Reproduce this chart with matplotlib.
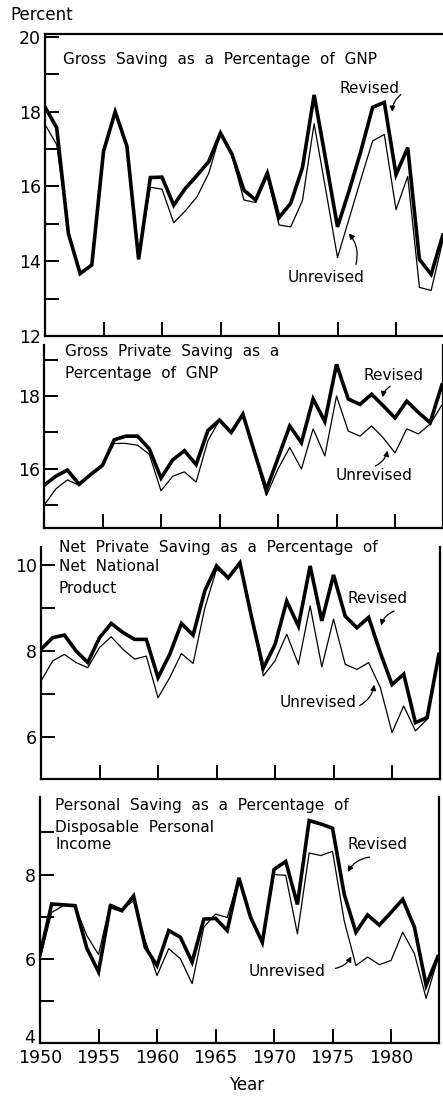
import matplotlib
matplotlib.use("Agg")
import matplotlib.pyplot as plt

# years shared by all four panels
years = list(range(1950, 1985))

# gross saving as a percentage of GNP
gross_rev = [18.13, 17.57, 14.74, 13.67, 13.9, 16.94, 18.0, 17.08, 14.05, 16.24,
             16.25, 15.5, 15.95, 16.3, 16.67, 17.43, 16.85, 15.9, 15.64, 16.36,
             15.17, 15.55, 16.5, 18.45, 16.7, 14.92, 15.9, 16.95, 18.12, 18.25,
             16.32, 17.04, 14.05, 13.65, 14.7]
gross_unrev = [17.66, 17.12, 14.8, 13.7, 13.9, 16.9, 18.0, 17.05, 14.07, 15.98,
               15.93, 15.03, 15.35, 15.73, 16.36, 17.43, 16.8, 15.64, 15.57, 16.27,
               14.97, 14.92, 15.62, 17.68, 15.9, 14.1, 15.15, 16.2, 17.22, 17.39,
               15.38, 16.27, 13.3, 13.22, 14.55]

# gross private saving as a percentage of GNP
private_rev = [15.55, 15.8, 15.97, 15.58, 15.85, 16.1, 16.8, 16.9, 16.9, 16.55,
               15.75, 16.25, 16.5, 16.12, 17.05, 17.34, 17.0, 17.5, 16.45, 15.43,
               16.3, 17.18, 16.72, 17.92, 17.3, 18.87, 17.92, 17.77, 18.05, 17.73,
               17.4, 17.86, 17.55, 17.27, 18.3]
private_unrev = [15.0, 15.45, 15.7, 15.55, 15.85, 16.1, 16.7, 16.7, 16.65, 16.4,
                 15.4, 15.8, 15.92, 15.64, 16.77, 17.34, 17.0, 17.5, 16.4, 15.27,
                 16.0, 16.59, 16.0, 17.1, 16.36, 18.0, 17.04, 16.9, 17.18, 16.85,
                 16.44, 17.1, 16.96, 17.23, 17.75]

# net private saving as a percentage of net national product
net_rev = [8.04, 8.31, 8.37, 8.0, 7.73, 8.31, 8.64, 8.43, 8.27, 8.27,
           7.38, 7.92, 8.64, 8.37, 9.4, 9.98, 9.7, 10.05, 8.78, 7.6,
           8.15, 9.16, 8.58, 9.98, 8.7, 9.77, 8.81, 8.54, 8.78, 7.96,
           7.22, 7.46, 6.33, 6.45, 7.92]
net_unrev = [7.3, 7.77, 7.92, 7.73, 7.61, 8.08, 8.33, 8.04, 7.81, 7.88,
             6.91, 7.38, 7.94, 7.71, 9.0, 9.9, 9.7, 10.05, 8.78, 7.42,
             7.77, 8.39, 7.69, 9.05, 7.63, 8.74, 7.69, 7.57, 7.73, 7.15,
             6.1, 6.72, 6.14, 6.41, 7.9]

# personal saving as a percentage of disposable personal income
personal_rev = [6.1, 7.3, 7.28, 7.26, 6.25, 5.69, 7.24, 7.14, 7.49, 6.27,
                5.84, 6.67, 6.51, 5.92, 6.94, 6.96, 6.67, 7.92, 6.98, 6.39,
                8.12, 8.31, 7.29, 9.28, 9.2, 9.1, 7.53, 6.63, 7.04, 6.8,
                7.1, 7.41, 6.75, 5.37, 6.05]
personal_unrev = [6.0, 7.1, 7.26, 7.25, 6.55, 6.1, 7.3, 7.18, 7.37, 6.43,
                  5.6, 6.24, 6.0, 5.41, 6.75, 7.06, 6.98, 7.92, 6.98, 6.39,
                  8.0, 7.98, 6.59, 8.51, 8.45, 8.55, 6.9, 5.84, 6.04, 5.86,
                  5.96, 6.63, 6.12, 5.06, 6.0]

year_ticks = [1950, 1955, 1960, 1965, 1970, 1975, 1980]

W, H = 443, 1097
fig = plt.figure(figsize=(W / 100, H / 100), dpi=100)


def panel(left, top, bottom, ylim, yticks, ylabels):
    # pixel box -> figure fraction
    ax = fig.add_axes([left / W, 1 - bottom / H, 399 / W, (bottom - top) / H])
    ax.set_xlim(1950, 1984.1)
    ax.set_ylim(*ylim)
    ax.set_yticks(yticks)
    ax.set_yticklabels(ylabels)
    ax.set_xticks(year_ticks)
    ax.set_xticklabels([])
    ax.tick_params(direction='in', length=10, width=1.4, labelsize=12.5, pad=3)
    for s in ax.spines.values():
        s.set_linewidth(1.6)
    ax.patch.set_alpha(0)
    return ax


def draw(ax, rev, unrev):
    ax.plot(years, unrev, color='black', lw=0.9)
    ax.plot(years, rev, color='black', lw=2.6, solid_joinstyle='miter')


def arrow(ax, head, tail, rad):
    ax.annotate('', xy=head, xytext=tail,
                arrowprops=dict(arrowstyle='-|>', color='black', lw=0.9,
                                mutation_scale=8,
                                connectionstyle=f'arc3,rad={rad}'))


txt = dict(fontsize=11, ha='left', va='center')

# panel 1
ax1 = panel(45, 34, 336, (12, 20.08), range(12, 21),
            ['12', '', '14', '', '16', '', '18', '', '20'])
ax1.spines['right'].set_visible(False)
draw(ax1, gross_rev, gross_unrev)
ax1.text(0.045, 0.917, 'Gross  Saving  as  a  Percentage  of  GNP',
         transform=ax1.transAxes, **txt)
ax1.text(1975.2, 18.61, 'Revised', **txt)
arrow(ax1, (1979.7, 17.92), (1980.6, 18.5), 0.3)
ax1.text(1970.7, 13.57, 'Unrevised', **txt)
arrow(ax1, (1975.8, 14.8), (1976.5, 13.84), 0.3)

# panel 2
ax2 = panel(44, 345, 528, (14.38, 19.4), range(15, 20),
            ['', '16', '', '18', ''])
ax2.spines['top'].set_visible(False)
draw(ax2, private_rev, private_unrev)
ax2.text(0.053, 0.962, 'Gross  Private  Saving  as  a',
         transform=ax2.transAxes, **txt)
ax2.text(0.053, 0.842, 'Percentage  of  GNP', transform=ax2.transAxes, **txt)
ax2.text(1977.3, 18.55, 'Revised', **txt)
arrow(ax2, (1978.9, 17.89), (1979.8, 18.3), 0.3)
ax2.text(1974.9, 15.81, 'Unrevised', **txt)
arrow(ax2, (1979.4, 16.58), (1978.1, 16.05), 0.3)

# panel 3
ax3 = panel(41, 547, 779, (5.02, 10.42), range(6, 11),
            ['6', '', '8', '', '10'])
ax3.spines['top'].set_visible(False)
draw(ax3, net_rev, net_unrev)
ax3.text(0.045, 0.996, 'Net  Private  Saving  as  a  Percentage  of',
         transform=ax3.transAxes, **txt)
ax3.text(0.045, 0.914, 'Net  National', transform=ax3.transAxes, **txt)
ax3.text(0.045, 0.823, 'Product', transform=ax3.transAxes, **txt)
ax3.text(1976.2, 9.23, 'Revised', **txt)
arrow(ax3, (1979.0, 8.53), (1980.4, 8.95), 0.3)
ax3.text(1970.4, 6.79, 'Unrevised', **txt)
arrow(ax3, (1978.5, 7.28), (1977.0, 6.70), 0.3)

# panel 4
ax4 = panel(40, 797, 1043, (4, 9.84), range(4, 10),
            ['', '', '6', '', '8', ''])
ax4.spines['top'].set_visible(False)
draw(ax4, personal_rev, personal_unrev)
ax4.text(0.038, 0.967, 'Personal  Saving  as  a  Percentage  of',
         transform=ax4.transAxes, **txt)
ax4.text(0.038, 0.878, 'Disposable  Personal', transform=ax4.transAxes, **txt)
ax4.text(0.038, 0.805, 'Income', transform=ax4.transAxes, **txt)
ax4.text(1976.3, 8.71, 'Revised', **txt)
arrow(ax4, (1976.2, 8.0), (1978.4, 8.42), 0.3)
ax4.text(1967.8, 5.69, 'Unrevised', **txt)
arrow(ax4, (1976.7, 6.12), (1975.0, 5.76), 0.3)
ax4.set_xticklabels([str(y) for y in year_ticks])
ax4.tick_params(axis='x', pad=4)
# the "4" sits a little above the corner so it clears the 1950 label
ax4.text(-0.012, 4.12, '4', transform=ax4.get_yaxis_transform(),
         fontsize=12.5, ha='right', va='center')

fig.text(10 / W, 1 - 15 / H, 'Percent', fontsize=12, ha='left', va='center')
fig.text(247 / W, 1 - 1085 / H, 'Year', fontsize=12, ha='center', va='center')

plt.savefig('out.png', dpi=100)
